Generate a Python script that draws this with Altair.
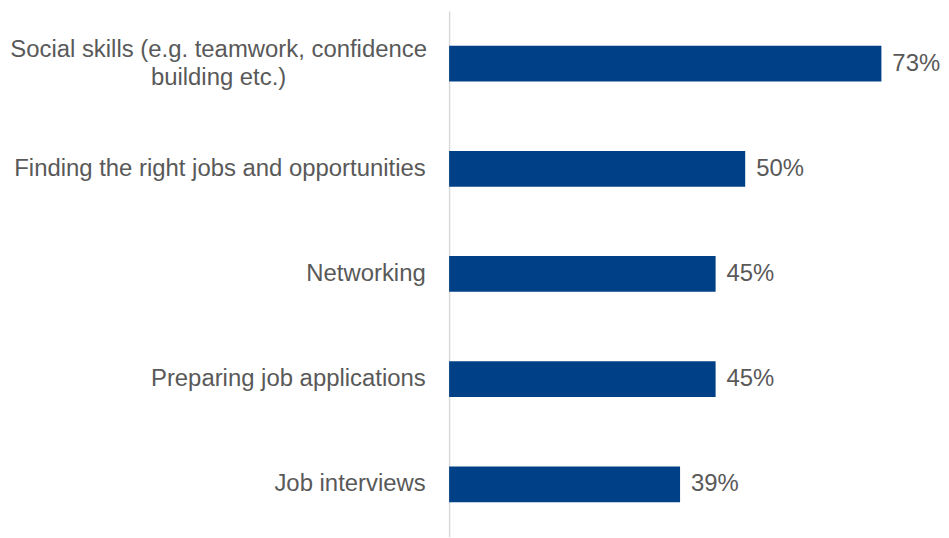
import altair as alt
import pandas as pd

categories = [
    "Social skills (e.g. teamwork, confidence\nbuilding etc.)",
    "Finding the right jobs and opportunities",
    "Networking",
    "Preparing job applications",
    "Job interviews",
]
values = [73, 50, 45, 45, 39]

df = pd.DataFrame({"category": categories, "value": values})

FONT = "Liberation Sans"
GRAY = "#595959"
FS = 24
MULTI = "indexof(datum.label, '\\n') >= 0"

y_enc = alt.Y(
    "category:N",
    sort=categories,
    title=None,
    scale=alt.Scale(paddingInner=0.66, paddingOuter=0.33),
    axis=alt.Axis(
        domain=True,
        domainColor="#d9d9d9",
        domainWidth=1.5,
        ticks=False,
        grid=False,
        labelFont=FONT,
        labelFontSize=FS,
        labelColor=GRAY,
        labelLimit=0,
        labelLineHeight=28,
        labelExpr="split(datum.label, '\\n')",
        labelAlign={"condition": {"test": MULTI, "value": "center"}, "value": "right"},
        labelPadding={"condition": {"test": MULTI, "value": 232}, "value": 24},
        labelOffset={"condition": {"test": MULTI, "value": -14}, "value": 0},
    ),
)

x_enc = alt.X(
    "value:Q",
    title=None,
    scale=alt.Scale(domain=[0, 76], nice=False),
    axis=None,
)

bars = alt.Chart(df).mark_bar(color="#004087").encode(y=y_enc, x=x_enc)

labels = (
    alt.Chart(df)
    .transform_calculate(lbl="datum.value + '%'")
    .mark_text(align="left", baseline="middle", dx=11, font=FONT, fontSize=FS, color=GRAY)
    .encode(y=alt.Y("category:N", sort=categories), x=alt.X("value:Q"), text="lbl:N")
)

chart = (
    alt.layer(bars, labels)
    .properties(
        width=452,
        height=528,
        autosize=alt.AutoSizeParams(type="none"),
        padding={"left": 443, "top": 2, "right": 42, "bottom": 0},
    )
    .configure_view(stroke=None)
)

chart.save("out.html", embed_options={"renderer": "svg", "actions": False})
